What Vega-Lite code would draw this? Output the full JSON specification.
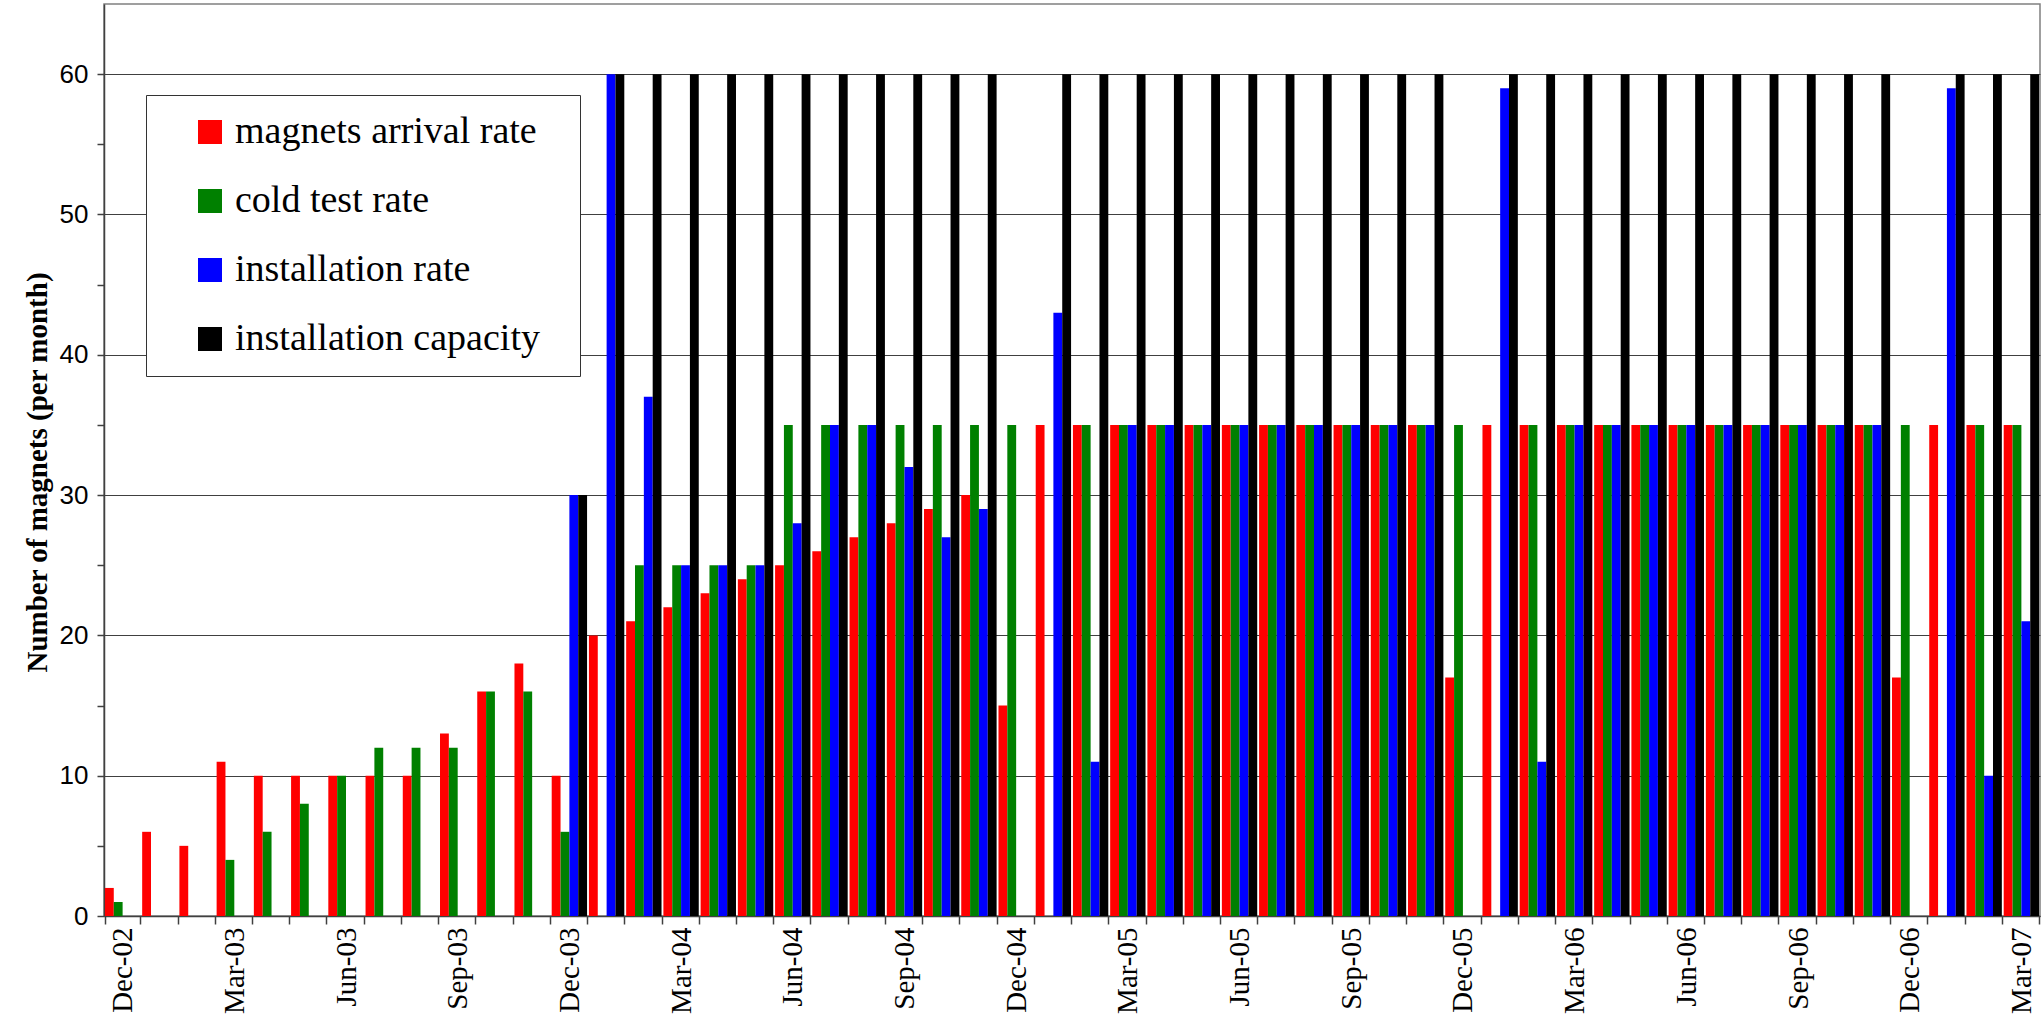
{
  "$schema": "https://vega.github.io/schema/vega-lite/v6.json",
  "width": 1936,
  "height": 912,
  "autosize": {"type": "none"},
  "padding": {"left": 104, "top": 4, "right": 1, "bottom": 100},
  "background": "white",
  "config": {"view": {"stroke": "#808080", "strokeWidth": 1.5}},
  "data": {"values": [
    {"month":"Dec-02","series":"magnets arrival rate","value":2},{"month":"Dec-02","series":"cold test rate","value":1},{"month":"Dec-02","series":"installation rate","value":0},{"month":"Dec-02","series":"installation capacity","value":0},
    {"month":"Jan-03","series":"magnets arrival rate","value":6},{"month":"Jan-03","series":"cold test rate","value":0},{"month":"Jan-03","series":"installation rate","value":0},{"month":"Jan-03","series":"installation capacity","value":0},
    {"month":"Feb-03","series":"magnets arrival rate","value":5},{"month":"Feb-03","series":"cold test rate","value":0},{"month":"Feb-03","series":"installation rate","value":0},{"month":"Feb-03","series":"installation capacity","value":0},
    {"month":"Mar-03","series":"magnets arrival rate","value":11},{"month":"Mar-03","series":"cold test rate","value":4},{"month":"Mar-03","series":"installation rate","value":0},{"month":"Mar-03","series":"installation capacity","value":0},
    {"month":"Apr-03","series":"magnets arrival rate","value":10},{"month":"Apr-03","series":"cold test rate","value":6},{"month":"Apr-03","series":"installation rate","value":0},{"month":"Apr-03","series":"installation capacity","value":0},
    {"month":"May-03","series":"magnets arrival rate","value":10},{"month":"May-03","series":"cold test rate","value":8},{"month":"May-03","series":"installation rate","value":0},{"month":"May-03","series":"installation capacity","value":0},
    {"month":"Jun-03","series":"magnets arrival rate","value":10},{"month":"Jun-03","series":"cold test rate","value":10},{"month":"Jun-03","series":"installation rate","value":0},{"month":"Jun-03","series":"installation capacity","value":0},
    {"month":"Jul-03","series":"magnets arrival rate","value":10},{"month":"Jul-03","series":"cold test rate","value":12},{"month":"Jul-03","series":"installation rate","value":0},{"month":"Jul-03","series":"installation capacity","value":0},
    {"month":"Aug-03","series":"magnets arrival rate","value":10},{"month":"Aug-03","series":"cold test rate","value":12},{"month":"Aug-03","series":"installation rate","value":0},{"month":"Aug-03","series":"installation capacity","value":0},
    {"month":"Sep-03","series":"magnets arrival rate","value":13},{"month":"Sep-03","series":"cold test rate","value":12},{"month":"Sep-03","series":"installation rate","value":0},{"month":"Sep-03","series":"installation capacity","value":0},
    {"month":"Oct-03","series":"magnets arrival rate","value":16},{"month":"Oct-03","series":"cold test rate","value":16},{"month":"Oct-03","series":"installation rate","value":0},{"month":"Oct-03","series":"installation capacity","value":0},
    {"month":"Nov-03","series":"magnets arrival rate","value":18},{"month":"Nov-03","series":"cold test rate","value":16},{"month":"Nov-03","series":"installation rate","value":0},{"month":"Nov-03","series":"installation capacity","value":0},
    {"month":"Dec-03","series":"magnets arrival rate","value":10},{"month":"Dec-03","series":"cold test rate","value":6},{"month":"Dec-03","series":"installation rate","value":30},{"month":"Dec-03","series":"installation capacity","value":30},
    {"month":"Jan-04","series":"magnets arrival rate","value":20},{"month":"Jan-04","series":"cold test rate","value":0},{"month":"Jan-04","series":"installation rate","value":60},{"month":"Jan-04","series":"installation capacity","value":60},
    {"month":"Feb-04","series":"magnets arrival rate","value":21},{"month":"Feb-04","series":"cold test rate","value":25},{"month":"Feb-04","series":"installation rate","value":37},{"month":"Feb-04","series":"installation capacity","value":60},
    {"month":"Mar-04","series":"magnets arrival rate","value":22},{"month":"Mar-04","series":"cold test rate","value":25},{"month":"Mar-04","series":"installation rate","value":25},{"month":"Mar-04","series":"installation capacity","value":60},
    {"month":"Apr-04","series":"magnets arrival rate","value":23},{"month":"Apr-04","series":"cold test rate","value":25},{"month":"Apr-04","series":"installation rate","value":25},{"month":"Apr-04","series":"installation capacity","value":60},
    {"month":"May-04","series":"magnets arrival rate","value":24},{"month":"May-04","series":"cold test rate","value":25},{"month":"May-04","series":"installation rate","value":25},{"month":"May-04","series":"installation capacity","value":60},
    {"month":"Jun-04","series":"magnets arrival rate","value":25},{"month":"Jun-04","series":"cold test rate","value":35},{"month":"Jun-04","series":"installation rate","value":28},{"month":"Jun-04","series":"installation capacity","value":60},
    {"month":"Jul-04","series":"magnets arrival rate","value":26},{"month":"Jul-04","series":"cold test rate","value":35},{"month":"Jul-04","series":"installation rate","value":35},{"month":"Jul-04","series":"installation capacity","value":60},
    {"month":"Aug-04","series":"magnets arrival rate","value":27},{"month":"Aug-04","series":"cold test rate","value":35},{"month":"Aug-04","series":"installation rate","value":35},{"month":"Aug-04","series":"installation capacity","value":60},
    {"month":"Sep-04","series":"magnets arrival rate","value":28},{"month":"Sep-04","series":"cold test rate","value":35},{"month":"Sep-04","series":"installation rate","value":32},{"month":"Sep-04","series":"installation capacity","value":60},
    {"month":"Oct-04","series":"magnets arrival rate","value":29},{"month":"Oct-04","series":"cold test rate","value":35},{"month":"Oct-04","series":"installation rate","value":27},{"month":"Oct-04","series":"installation capacity","value":60},
    {"month":"Nov-04","series":"magnets arrival rate","value":30},{"month":"Nov-04","series":"cold test rate","value":35},{"month":"Nov-04","series":"installation rate","value":29},{"month":"Nov-04","series":"installation capacity","value":60},
    {"month":"Dec-04","series":"magnets arrival rate","value":15},{"month":"Dec-04","series":"cold test rate","value":35},{"month":"Dec-04","series":"installation rate","value":0},{"month":"Dec-04","series":"installation capacity","value":0},
    {"month":"Jan-05","series":"magnets arrival rate","value":35},{"month":"Jan-05","series":"cold test rate","value":0},{"month":"Jan-05","series":"installation rate","value":43},{"month":"Jan-05","series":"installation capacity","value":60},
    {"month":"Feb-05","series":"magnets arrival rate","value":35},{"month":"Feb-05","series":"cold test rate","value":35},{"month":"Feb-05","series":"installation rate","value":11},{"month":"Feb-05","series":"installation capacity","value":60},
    {"month":"Mar-05","series":"magnets arrival rate","value":35},{"month":"Mar-05","series":"cold test rate","value":35},{"month":"Mar-05","series":"installation rate","value":35},{"month":"Mar-05","series":"installation capacity","value":60},
    {"month":"Apr-05","series":"magnets arrival rate","value":35},{"month":"Apr-05","series":"cold test rate","value":35},{"month":"Apr-05","series":"installation rate","value":35},{"month":"Apr-05","series":"installation capacity","value":60},
    {"month":"May-05","series":"magnets arrival rate","value":35},{"month":"May-05","series":"cold test rate","value":35},{"month":"May-05","series":"installation rate","value":35},{"month":"May-05","series":"installation capacity","value":60},
    {"month":"Jun-05","series":"magnets arrival rate","value":35},{"month":"Jun-05","series":"cold test rate","value":35},{"month":"Jun-05","series":"installation rate","value":35},{"month":"Jun-05","series":"installation capacity","value":60},
    {"month":"Jul-05","series":"magnets arrival rate","value":35},{"month":"Jul-05","series":"cold test rate","value":35},{"month":"Jul-05","series":"installation rate","value":35},{"month":"Jul-05","series":"installation capacity","value":60},
    {"month":"Aug-05","series":"magnets arrival rate","value":35},{"month":"Aug-05","series":"cold test rate","value":35},{"month":"Aug-05","series":"installation rate","value":35},{"month":"Aug-05","series":"installation capacity","value":60},
    {"month":"Sep-05","series":"magnets arrival rate","value":35},{"month":"Sep-05","series":"cold test rate","value":35},{"month":"Sep-05","series":"installation rate","value":35},{"month":"Sep-05","series":"installation capacity","value":60},
    {"month":"Oct-05","series":"magnets arrival rate","value":35},{"month":"Oct-05","series":"cold test rate","value":35},{"month":"Oct-05","series":"installation rate","value":35},{"month":"Oct-05","series":"installation capacity","value":60},
    {"month":"Nov-05","series":"magnets arrival rate","value":35},{"month":"Nov-05","series":"cold test rate","value":35},{"month":"Nov-05","series":"installation rate","value":35},{"month":"Nov-05","series":"installation capacity","value":60},
    {"month":"Dec-05","series":"magnets arrival rate","value":17},{"month":"Dec-05","series":"cold test rate","value":35},{"month":"Dec-05","series":"installation rate","value":0},{"month":"Dec-05","series":"installation capacity","value":0},
    {"month":"Jan-06","series":"magnets arrival rate","value":35},{"month":"Jan-06","series":"cold test rate","value":0},{"month":"Jan-06","series":"installation rate","value":59},{"month":"Jan-06","series":"installation capacity","value":60},
    {"month":"Feb-06","series":"magnets arrival rate","value":35},{"month":"Feb-06","series":"cold test rate","value":35},{"month":"Feb-06","series":"installation rate","value":11},{"month":"Feb-06","series":"installation capacity","value":60},
    {"month":"Mar-06","series":"magnets arrival rate","value":35},{"month":"Mar-06","series":"cold test rate","value":35},{"month":"Mar-06","series":"installation rate","value":35},{"month":"Mar-06","series":"installation capacity","value":60},
    {"month":"Apr-06","series":"magnets arrival rate","value":35},{"month":"Apr-06","series":"cold test rate","value":35},{"month":"Apr-06","series":"installation rate","value":35},{"month":"Apr-06","series":"installation capacity","value":60},
    {"month":"May-06","series":"magnets arrival rate","value":35},{"month":"May-06","series":"cold test rate","value":35},{"month":"May-06","series":"installation rate","value":35},{"month":"May-06","series":"installation capacity","value":60},
    {"month":"Jun-06","series":"magnets arrival rate","value":35},{"month":"Jun-06","series":"cold test rate","value":35},{"month":"Jun-06","series":"installation rate","value":35},{"month":"Jun-06","series":"installation capacity","value":60},
    {"month":"Jul-06","series":"magnets arrival rate","value":35},{"month":"Jul-06","series":"cold test rate","value":35},{"month":"Jul-06","series":"installation rate","value":35},{"month":"Jul-06","series":"installation capacity","value":60},
    {"month":"Aug-06","series":"magnets arrival rate","value":35},{"month":"Aug-06","series":"cold test rate","value":35},{"month":"Aug-06","series":"installation rate","value":35},{"month":"Aug-06","series":"installation capacity","value":60},
    {"month":"Sep-06","series":"magnets arrival rate","value":35},{"month":"Sep-06","series":"cold test rate","value":35},{"month":"Sep-06","series":"installation rate","value":35},{"month":"Sep-06","series":"installation capacity","value":60},
    {"month":"Oct-06","series":"magnets arrival rate","value":35},{"month":"Oct-06","series":"cold test rate","value":35},{"month":"Oct-06","series":"installation rate","value":35},{"month":"Oct-06","series":"installation capacity","value":60},
    {"month":"Nov-06","series":"magnets arrival rate","value":35},{"month":"Nov-06","series":"cold test rate","value":35},{"month":"Nov-06","series":"installation rate","value":35},{"month":"Nov-06","series":"installation capacity","value":60},
    {"month":"Dec-06","series":"magnets arrival rate","value":17},{"month":"Dec-06","series":"cold test rate","value":35},{"month":"Dec-06","series":"installation rate","value":0},{"month":"Dec-06","series":"installation capacity","value":0},
    {"month":"Jan-07","series":"magnets arrival rate","value":35},{"month":"Jan-07","series":"cold test rate","value":0},{"month":"Jan-07","series":"installation rate","value":59},{"month":"Jan-07","series":"installation capacity","value":60},
    {"month":"Feb-07","series":"magnets arrival rate","value":35},{"month":"Feb-07","series":"cold test rate","value":35},{"month":"Feb-07","series":"installation rate","value":10},{"month":"Feb-07","series":"installation capacity","value":60},
    {"month":"Mar-07","series":"magnets arrival rate","value":35},{"month":"Mar-07","series":"cold test rate","value":35},{"month":"Mar-07","series":"installation rate","value":21},{"month":"Mar-07","series":"installation capacity","value":60}
  ]},
  "mark": {"type": "bar"},
  "encoding": {
    "x": {
      "field": "month", "type": "nominal", "sort": null,
      "scale": {"paddingInner": 0.05, "paddingOuter": 0.025},
      "axis": {
        "title": null, "labelAngle": -90, "labelAlign": "right", "labelBaseline": "middle",
        "labelFont": "Liberation Serif", "labelFontSize": 29, "labelColor": "black",
        "labelExpr": "test(/^(Dec|Mar|Jun|Sep)/, datum.label) ? datum.label : ''",
        "labelOverlap": false, "labelPadding": 3,
        "tickBand": "extent", "tickSize": 8, "tickColor": "#404040", "tickWidth": 1.5,
        "domainColor": "#404040", "domainWidth": 1.5, "grid": false
      }
    },
    "xOffset": {
      "field": "series", "type": "nominal",
      "scale": {"domain": ["magnets arrival rate", "cold test rate", "installation rate", "installation capacity"], "paddingInner": 0, "paddingOuter": 0}
    },
    "y": {
      "field": "value", "type": "quantitative",
      "scale": {"domain": [0, 65], "nice": false},
      "axis": {
        "title": "Number of magnets (per month)", "titleFont": "Liberation Serif", "titleFontWeight": "bold",
        "titleFontSize": 29, "titleColor": "black", "titlePadding": 7, "titleY": 468,
        "values": [0, 5, 10, 15, 20, 25, 30, 35, 40, 45, 50, 55, 60],
        "labelExpr": "datum.value % 10 == 0 ? datum.label : ''",
        "labelFont": "Liberation Sans", "labelFontSize": 26, "labelColor": "black", "labelPadding": 9, "labelOverlap": false,
        "tickSize": 7, "tickColor": "#404040", "tickWidth": 1.5,
        "domainColor": "#404040", "domainWidth": 1.5,
        "grid": true, "gridColor": "#404040", "gridWidth": 1,
        "gridOpacity": {"condition": {"test": "datum.value % 10 != 0", "value": 0}, "value": 1}
      }
    },
    "color": {
      "field": "series", "type": "nominal",
      "scale": {"domain": ["magnets arrival rate", "cold test rate", "installation rate", "installation capacity"], "range": ["#FF0000", "#008000", "#0000FF", "#000000"]},
      "legend": {
        "title": " ", "titleOrient": "right", "titlePadding": 22, "titleFontSize": 8,
        "orient": "none", "legendX": 42, "legendY": 91, "direction": "vertical",
        "labelFont": "Liberation Serif", "labelFontSize": 38, "labelColor": "black", "labelLimit": 0,
        "symbolType": "square", "symbolSize": 576, "symbolStrokeWidth": 0, "symbolOpacity": 1,
        "symbolOffset": 27, "labelOffset": 6, "rowPadding": 31, "padding": 18,
        "strokeColor": "#333333", "fillColor": "white"
      }
    }
  }
}
